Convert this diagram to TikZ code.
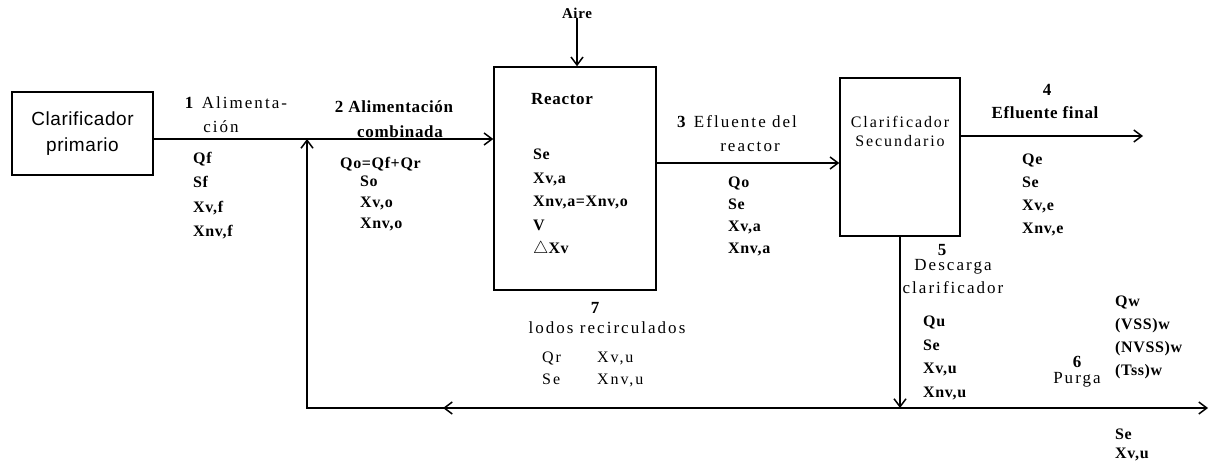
\documentclass[tikz,border=0pt]{standalone}
\usepackage{fontspec}
\setmainfont{Liberation Serif}[LetterSpace=4]
\newfontfamily\widef{Liberation Serif}[LetterSpace=12]
\newfontfamily\arialf{Liberation Sans}[LetterSpace=3]
\usetikzlibrary{arrows.meta}
\begin{document}
\begin{tikzpicture}[x=1pt,y=-1pt,
  box/.style={draw, line width=1.5pt, inner sep=0pt},
  flow/.style={line width=2.2pt, line join=miter},
  arr/.style={flow, -{Straight Barb[length=8pt,width=12pt,line width=1.5pt]}},
  vals/.style={font=\fontsize{16}{#1}\selectfont\bfseries, align=left, anchor=north west, inner sep=0pt},
  vals/.default=23,
  rvals/.style={font=\widef\fontsize{16}{#1}\selectfont, align=left, anchor=north west, inner sep=0pt},
  rvals/.default=22,
  lbl/.style={font=\widef\fontsize{17}{19}\selectfont, inner sep=0pt, align=center},
  blbl/.style={font=\fontsize{17}{19}\selectfont\bfseries, inner sep=0pt, align=center}]
\useasboundingbox (0,0) rectangle (1218,468);

% boxes
\node[box, minimum width=141pt, minimum height=83pt, font=\arialf\fontsize{19}{26}\selectfont, align=center] (cp) at (82.5,133.5) {Clarificador\\primario};
\node[box, minimum width=162pt, minimum height=223pt] (reac) at (575,178.5) {};
\node[box, minimum width=120pt, minimum height=158pt] (cl2) at (900,157) {};

% reactor contents
\node[blbl, anchor=west] (rt) at (531,99) {Reactor};
\node[vals=23.5] (rv) at (533,149) {Se\\Xv,a\\Xnv,a=Xnv,o\\V\\$\triangle$Xv};

% secondary clarifier text
\node[lbl, font=\widef\fontsize{16}{19}\selectfont] (ct) at (900,131) {Clarificador\\Secundario};

% coordinates
\coordinate (j1) at (307,139);
\coordinate (j5) at (900,408);
\coordinate (rc) at (307,408);
\coordinate (mid) at (443,408);
\coordinate (pe) at (1208,408);
\coordinate (y3) at (700,163);
\coordinate (e4) at (1143,136);

% air
\node[blbl, font=\fontsize{15}{17}\selectfont\bfseries] (aire) at (577,13) {Aire};

% flows
\draw[arr] (cp.east |- j1) -- (reac.west |- j1);
\draw[arr] (j5) -- (rc) -- (j1);
\draw[arr] (j5) -- (mid);
\draw[arr] (reac.east |- y3) -- (cl2.west |- y3);
\draw[arr] (cl2.east |- e4) -- (e4);
\draw[arr] (cl2.south) -- (j5);
\draw[arr] (j5) -- (pe);
\draw[arr] (aire.south) -- (reac.north -| aire);

% stream 1
\node[lbl] (l1a) at (236,103) {\textbf{1} Alimenta-};
\node[lbl] (l1b) at (221,127) {ción};
\node[vals=24.5] (v1) at (193,152) {Qf\\Sf\\Xv,f\\Xnv,f};

% stream 2
\node[blbl] (l2a) at (394,107) {2 Alimentación};
\node[blbl] (l2b) at (400,132) {combinada};
\node[vals] (v2a) at (340,157) {Qo=Qf+Qr};
\node[vals=21] (v2b) at (360,176) {So\\Xv,o\\Xnv,o};

% stream 3
\node[lbl] (l3a) at (737,122) {\textbf{3} Efluente del};
\node[lbl] (l3b) at (750,147) {reactor};
\node[vals=22] (v3) at (728,177) {Qo\\Se\\Xv,a\\Xnv,a};

% stream 4
\node[blbl] (l4a) at (1047,90) {4};
\node[blbl] (l4b) at (1045,113) {Efluente final};
\node[vals] (v4) at (1022,154) {Qe\\Se\\Xv,e\\Xnv,e};

% stream 5
\node[blbl] (l5a) at (942,250) {5};
\node[lbl] (l5b) at (953,267) {Descarga};
\node[lbl] (l5c) at (953,288) {clarificador};
\node[vals=23.5] (v5) at (923,316) {Qu\\Se\\Xv,u\\Xnv,u};

% stream 7
\node[blbl] (l7a) at (595,308) {7};
\node[lbl] (l7b) at (607,328) {lodos recirculados};
\node[rvals] (v7a) at (542,352) {Qr\\Se};
\node[rvals] (v7b) at (597,352) {Xv,u\\Xnv,u};

% stream 6
\node[blbl] (l6a) at (1077,362) {6};
\node[lbl] (l6b) at (1077,380) {Purga};
\node[vals] (v6a) at (1115,296) {Qw\\(VSS)w\\(NVSS)w\\(Tss)w};
\node[vals=19] (v6b) at (1115,429) {Se\\Xv,u};
\end{tikzpicture}
\end{document}
